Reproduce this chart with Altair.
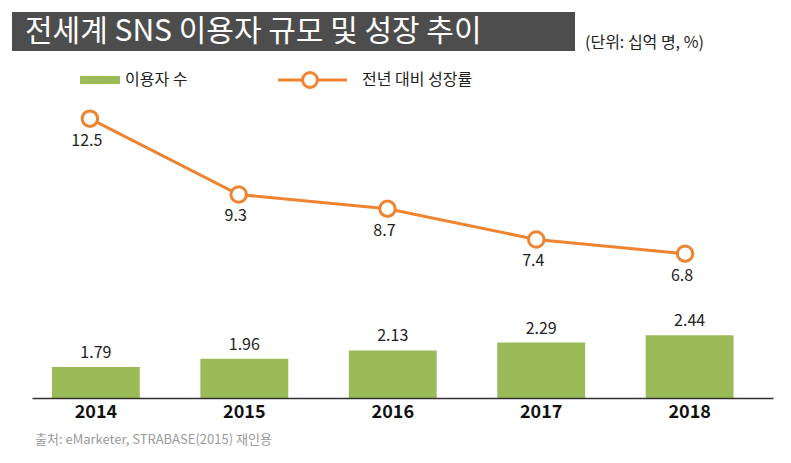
import altair as alt
import pandas as pd

years = ["2014", "2015", "2016", "2017", "2018"]
users = [1.79, 1.96, 2.13, 2.29, 2.44]          # 이용자 수 (십억 명)
growth = [12.5, 9.3, 8.7, 7.4, 6.8]             # 전년 대비 성장률 (%)

title_text = "전세계 SNS 이용자 규모 및 성장 추이"
unit_text = "(단위: 십억 명, %)"
legend_bar = "이용자 수"
legend_line = "전년 대비 성장률"
source_text = "출처: eMarketer, STRABASE(2015) 재인용"

GREEN = "#9BBB59"
ORANGE = "#EE8430"
FONT = "Noto Sans CJK KR"
BAR_BASE = 1.155

df = pd.DataFrame({"year": years, "users": users, "growth": growth})
one = alt.Data(values=[{"k": 1}])

base = alt.Chart(df)

x_band = alt.X(
    "year:N",
    sort=years,
    scale=alt.Scale(type="band", paddingInner=0.408, paddingOuter=0.2, align=0.336),
    axis=alt.Axis(
        title=None, labelAngle=0, labelFontSize=18, labelFontWeight="bold",
        labelColor="#111111", labelFont=FONT, domainColor="#333333",
        domainWidth=1.5, ticks=False, labelPadding=5, zindex=1,
    ),
)
y_bar = alt.Y("users:Q", scale=alt.Scale(domain=[BAR_BASE, 9.147], zero=False, nice=False), axis=None)

bars = base.mark_bar(color=GREEN).encode(x=x_band, y=y_bar, y2=alt.Y2(datum=BAR_BASE))
bar_text = base.mark_text(dy=-14, fontSize=16, font=FONT, color="#222222").encode(
    x=x_band, y=y_bar, text=alt.Text("users:Q", format=".2f")
)

x_point = alt.X("year:N", sort=years, scale=alt.Scale(type="point", padding=0.49, align=0.397), axis=None)
y_line = alt.Y("growth:Q", scale=alt.Scale(domain=[0.71, 17.17], zero=False, nice=False), axis=None)

line = base.mark_line(color=ORANGE, strokeWidth=3).encode(x=x_point, y=y_line)
pts = base.mark_point(shape="circle", filled=True, fill="white", stroke=ORANGE,
                      strokeWidth=3, size=240, opacity=1).encode(x=x_point, y=y_line)
line_text = base.mark_text(dy=22, dx=-3, fontSize=16, font=FONT, color="#222222").encode(
    x=x_point, y=y_line, text=alt.Text("growth:Q", format=".1f")
)

data_layers = alt.layer(
    alt.layer(bars, bar_text),
    alt.layer(line, pts, line_text),
).resolve_scale(x="independent", y="independent")

# decorations (title box, unit, legend, source)
title_box = alt.Chart(one).mark_rect(color="#4D4D4D").encode(
    x=alt.value(-20), x2=alt.value(543), y=alt.value(4), y2=alt.value(43)
)
title = alt.Chart(one).mark_text(
    text=title_text, color="white", fontSize=30, font=FONT, align="left", baseline="middle"
).encode(x=alt.value(-7), y=alt.value(24))
unit = alt.Chart(one).mark_text(
    text=unit_text, color="#222222", fontSize=16, font=FONT, align="left", baseline="middle"
).encode(x=alt.value(553), y=alt.value(35))

leg_rect = alt.Chart(one).mark_rect(color=GREEN).encode(
    x=alt.value(48), x2=alt.value(88), y=alt.value(68), y2=alt.value(76)
)
leg_rect_txt = alt.Chart(one).mark_text(
    text=legend_bar, color="#222222", fontSize=16, font=FONT, align="left", baseline="middle"
).encode(x=alt.value(93), y=alt.value(72))
leg_line = alt.Chart(one).mark_rule(color=ORANGE, strokeWidth=3).encode(
    x=alt.value(246), x2=alt.value(315), y=alt.value(72)
)
leg_pt = alt.Chart(one).mark_point(shape="circle", filled=True, fill="white", stroke=ORANGE,
                                   strokeWidth=3, size=220, opacity=1).encode(
    x=alt.value(278), y=alt.value(72)
)
leg_line_txt = alt.Chart(one).mark_text(
    text=legend_line, color="#222222", fontSize=16, font=FONT, align="left", baseline="middle"
).encode(x=alt.value(330), y=alt.value(72))

source = alt.Chart(one).mark_text(
    text=source_text, color="#9A9A9A", fontSize=13, font=FONT, align="left", baseline="middle"
).encode(x=alt.value(3), y=alt.value(432))

chart = alt.layer(
    title_box, title, unit, leg_rect, leg_rect_txt, leg_line, leg_pt, leg_line_txt,
    data_layers, source,
).properties(
    width=741, height=390,
    padding={"left": 24, "top": 0, "right": 10, "bottom": 57},
    autosize=alt.AutoSizeParams(type="none"),
    background="white",
).configure_view(stroke=None)

chart.save("out.html", embed_options={"renderer": "svg", "actions": False})
